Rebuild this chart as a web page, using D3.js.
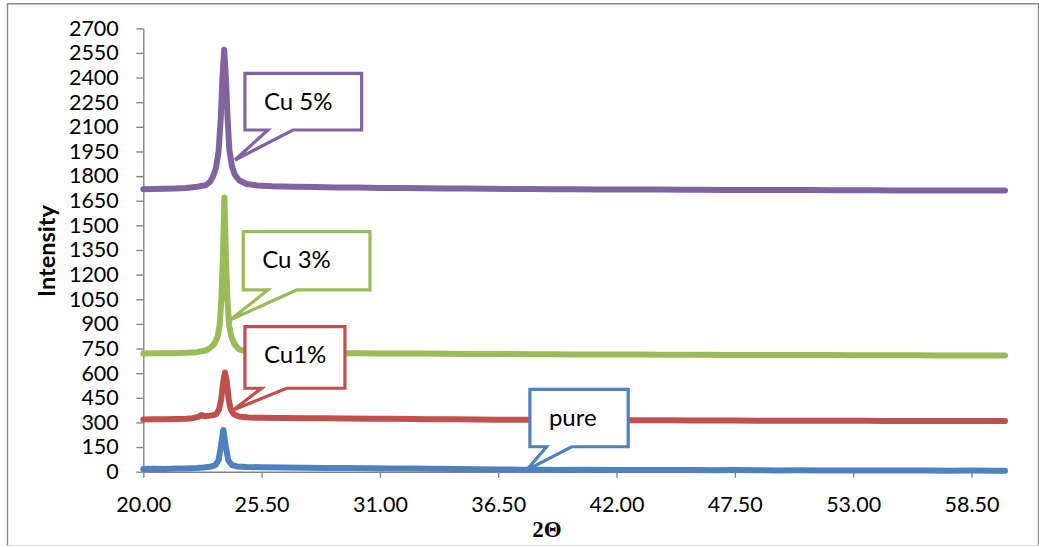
<!DOCTYPE html>
<html>
<head>
<meta charset="utf-8">
<script src="https://cdn.jsdelivr.net/npm/d3@7"></script>
<style>
  html, body { margin: 0; padding: 0; background: #fff; }
  svg { display: block; font-family: Lato, "Open Sans", sans-serif; }
</style>
</head>
<body>
<svg id="chart" width="1039" height="547"></svg>
<script>
// XRD scans: [2θ (deg), intensity (counts)]
const pure = [
  [20.0,16],[20.5,18],[21.0,17],[21.5,19],[22.0,20],[22.5,22],[22.8,25],[23.1,30],[23.35,40],
  [23.5,70],[23.6,150],[23.72,254],[23.84,150],[23.95,70],[24.1,42],[24.35,32],[24.8,29],
  [25.5,27],[26.5,26],[27.5,24],[28.5,23],[29.5,22],[30.5,21],[31.5,20],[32.5,19],[33.5,18],
  [34.5,17],[35.5,15],[36.5,14],[37.5,12],[38.5,12],[39.5,11],[40.5,12],[41.5,11],[42.5,10],
  [43.5,11],[44.5,10],[45.5,10],[46.5,9],[47.5,10],[48.5,9],[49.5,8],[50.5,9],[51.5,8],
  [52.5,8],[53.5,7],[54.5,8],[55.5,7],[56.5,7],[57.5,6],[58.5,7],[59.5,6],[60.06,6]
];
const cu1 = [
  [20.0,318],[20.5,320],[21.0,319],[21.5,321],[22.0,322],[22.3,326],[22.55,334],[22.7,345],
  [22.85,338],[23.0,340],[23.2,343],[23.4,350],[23.52,380],[23.62,440],[23.72,550],[23.8,604],
  [23.88,550],[23.97,440],[24.06,380],[24.2,350],[24.45,336],[24.9,330],[25.5,328],[26.5,327],
  [27.5,326],[28.5,325],[29.5,324],[30.5,323],[31.5,322],[32.5,321],[33.5,320],[34.5,319],
  [35.5,318],[36.5,317],[37.5,316],[38.5,316],[39.5,315],[40.5,315],[41.5,314],[42.5,314],
  [43.5,313],[44.5,313],[45.5,312],[46.5,312],[47.5,312],[48.5,311],[49.5,311],[50.5,311],
  [51.5,310],[52.5,310],[53.5,310],[54.5,309],[55.5,309],[56.5,309],[57.5,308],[58.5,308],
  [59.5,308],[60.06,308]
];
const cu3 = [
  [20.0,720],[20.5,722],[21.0,721],[21.5,722],[22.0,724],[22.5,728],[22.9,738],[23.1,752],
  [23.3,778],[23.45,820],[23.55,890],[23.63,1050],[23.7,1300],[23.77,1670],[23.84,1300],
  [23.91,1050],[23.99,890],[24.1,820],[24.25,775],[24.45,745],[24.8,732],[25.3,727],[26.0,725],
  [27.0,724],[28.0,723],[29.0,722],[30.0,721],[31.0,720],[32.0,719],[33.0,719],[34.0,718],
  [35.0,717],[36.0,716],[37.0,716],[38.0,715],[39.0,715],[40.0,714],[41.0,714],[42.0,713],
  [43.0,713],[44.0,712],[45.0,712],[46.0,712],[47.0,711],[48.0,711],[49.0,711],[50.0,710],
  [51.0,710],[52.0,710],[53.0,709],[54.0,709],[55.0,709],[56.0,709],[57.0,708],[58.0,708],
  [59.0,708],[60.06,708]
];
const cu5 = [
  [20.0,1720],[20.5,1722],[21.0,1723],[21.5,1725],[22.0,1728],[22.5,1735],[22.9,1745],
  [23.1,1765],[23.25,1800],[23.38,1850],[23.5,1950],[23.6,2150],[23.68,2400],[23.76,2570],
  [23.84,2400],[23.92,2150],[24.0,1960],[24.12,1860],[24.25,1810],[24.45,1775],[24.8,1752],
  [25.3,1743],[26.0,1738],[27.0,1735],[28.0,1733],[29.0,1731],[30.0,1730],[31.0,1728],
  [32.0,1727],[33.0,1726],[34.0,1725],[35.0,1724],[36.0,1723],[37.0,1722],[38.0,1721],
  [39.0,1720],[40.0,1720],[41.0,1719],[42.0,1719],[43.0,1718],[44.0,1718],[45.0,1717],
  [46.0,1717],[47.0,1716],[48.0,1716],[49.0,1715],[50.0,1715],[51.0,1715],[52.0,1714],
  [53.0,1714],[54.0,1714],[55.0,1713],[56.0,1713],[57.0,1713],[58.0,1712],[59.0,1712],
  [60.06,1712]
];

const seriesNames  = ["pure", "Cu1%", "Cu3%", "Cu5%"];
const seriesData   = [pure, cu1, cu3, cu5];
const seriesColors = ["#4F81BD", "#C0504D", "#9BBB59", "#8064A2"];

const xTicks = [20, 25.5, 31, 36.5, 42, 47.5, 53, 58.5];
const yTicks = [0,150,300,450,600,750,900,1050,1200,1350,1500,1650,1800,1950,2100,2250,2400,2550,2700];

// Callout labels and the point (2θ, intensity) each one points at
const calloutLabels = ["pure", "Cu1%", "Cu 3%", "Cu 5%"];
const calloutTips   = [[37.82, 10], [24.18, 376], [24.03, 924], [24.26, 1898]];

// Callout box geometry in pixels, relative to the tip
const calloutBoxes = [
  { left: 3.3,  width: 98.3,  top: -80.7, bottom: -23.3, n1: 20,   n2: 45 },
  { left: 11.7, width: 100,   top: -83.3, bottom: -21.7, n1: 28.4, n2: 53.4 },
  { left: 13.3, width: 126.7, top: -88.3, bottom: -30,   n1: 38,   n2: 66.7 },
  { left: 10,   width: 116.7, top: -86.7, bottom: -30,   n1: 33,   n2: 58 }
];

const svg = d3.select("#chart");
const plot = { left: 143.3, right: 1005, top: 28.3, bottom: 471.7 };

const x = d3.scaleLinear().domain([20, 60.06]).range([plot.left, plot.right]);
const y = d3.scaleLinear().domain([0, 2700]).range([plot.bottom, plot.top]);

const axisColor = "#868686";
const fontSize = 21.5;

// Outer chart frame
svg.append("path")
  .attr("d", "M7.5,546 V3.8 H1038.5 V546")
  .attr("fill", "none").attr("stroke", "#8a8a8a").attr("stroke-width", 1.4);
svg.append("line")
  .attr("x1", 7.5).attr("x2", 1038.5).attr("y1", 545.5).attr("y2", 545.5)
  .attr("stroke", "#dcdcdc").attr("stroke-width", 1.2);

// Y axis
const yAxis = svg.append("g")
  .attr("transform", `translate(${plot.left},0)`)
  .call(d3.axisLeft(y).tickValues(yTicks).tickSize(7).tickSizeOuter(0).tickPadding(17.5)
    .tickFormat(d3.format("d")));
yAxis.selectAll("path, line").attr("stroke", axisColor).attr("stroke-width", 1.4);
yAxis.selectAll("text").attr("font-size", fontSize).attr("font-family", "Lato").attr("fill", "#000");

// X axis
const xAxis = svg.append("g")
  .attr("transform", `translate(0,${plot.bottom})`)
  .call(d3.axisBottom(x).tickValues(xTicks).tickSize(6).tickSizeOuter(0).tickPadding(19)
    .tickFormat(d3.format(".2f")));
xAxis.selectAll("path, line").attr("stroke", axisColor).attr("stroke-width", 1.4);
xAxis.selectAll("text").attr("font-size", fontSize).attr("font-family", "Lato").attr("fill", "#000");

// Axis titles
svg.append("text")
  .attr("x", 547).attr("y", 536.5)
  .attr("text-anchor", "middle")
  .attr("font-family", "Liberation Serif, DejaVu Serif, serif")
  .attr("font-weight", "bold").attr("font-size", 23)
  .text("2Θ");
svg.append("text")
  .attr("transform", "translate(55,251) rotate(-90)")
  .attr("text-anchor", "middle")
  .attr("font-family", "Lato").attr("font-weight", "bold").attr("font-size", 23.5)
  .text("Intensity");

// Scan lines
const line = d3.line().x(d => x(d[0])).y(d => y(d[1])).curve(d3.curveLinear);
svg.append("g").selectAll("path")
  .data(seriesData)
  .join("path")
  .attr("d", line)
  .attr("fill", "none")
  .attr("stroke", (d, i) => seriesColors[i])
  .attr("stroke-width", 6)
  .attr("stroke-linejoin", "round")
  .attr("stroke-linecap", "round");

// Callouts
const callouts = svg.append("g");
calloutLabels.forEach((label, i) => {
  const [tx, ty] = [x(calloutTips[i][0]), y(calloutTips[i][1])];
  const b = calloutBoxes[i];
  const L = tx + b.left, R = L + b.width, T = ty + b.top, B = ty + b.bottom;
  const d = `M${L},${T} H${R} V${B} H${tx + b.n2} L${tx},${ty} L${tx + b.n1},${B} H${L} Z`;
  callouts.append("path")
    .attr("d", d)
    .attr("fill", "#fff")
    .attr("stroke", seriesColors[i])
    .attr("stroke-width", 3.2)
    .attr("stroke-linejoin", "miter");
  callouts.append("text")
    .attr("x", L + 19).attr("y", T + 36.5)
    .attr("font-family", "Lato").attr("font-size", 24).attr("fill", "#000")
    .text(label);
});
</script>
</body>
</html>
